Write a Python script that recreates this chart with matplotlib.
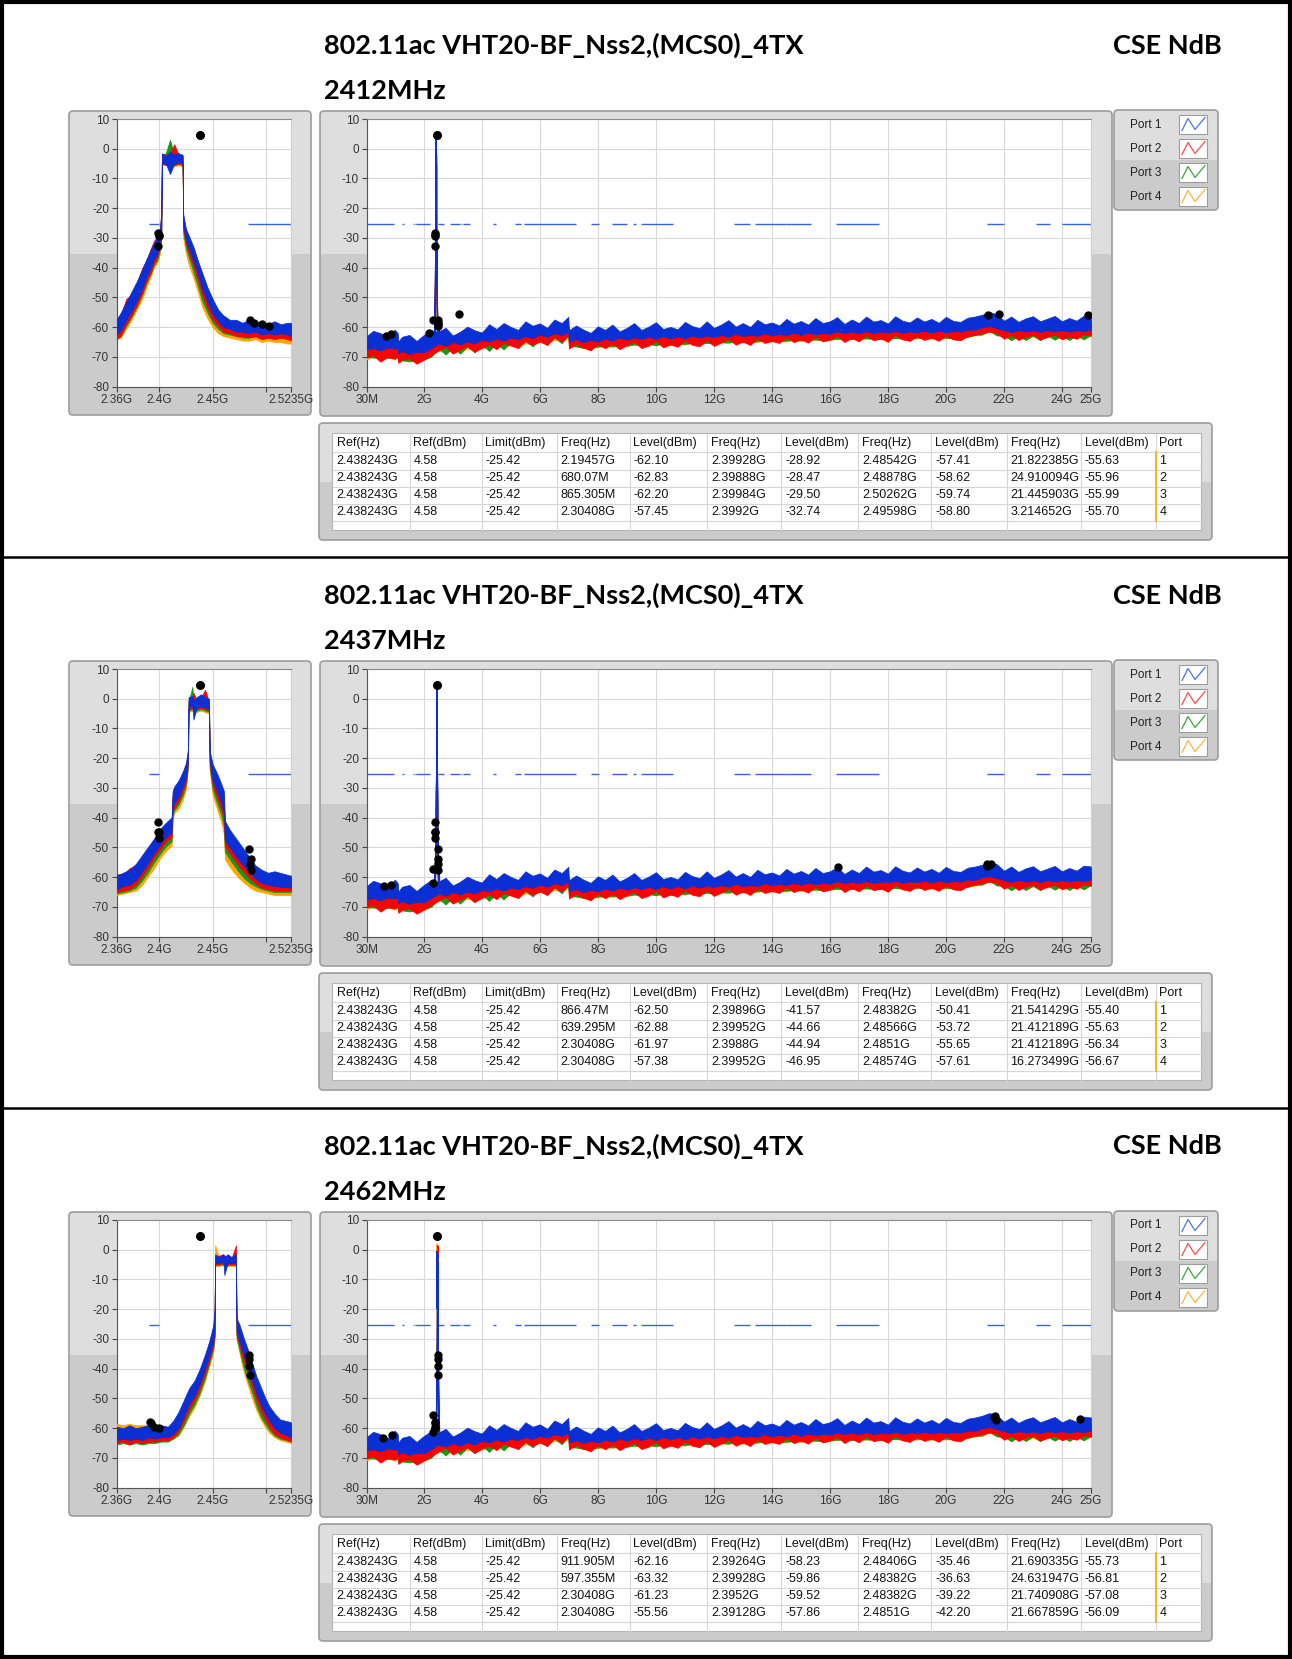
import matplotlib
matplotlib.use("Agg")
import matplotlib.pyplot as plt
from matplotlib.patches import FancyBboxPatch, Rectangle

W, H = 1292, 1659

# ---------------- data ----------------
title_text = "802.11ac VHT20-BF_Nss2,(MCS0)_4TX"
corner_text = "CSE NdB"
channel_labels = ["2412MHz", "2437MHz", "2462MHz"]
channel_center_ghz = [2.412, 2.437, 2.462]

port_names = ["Port 1", "Port 2", "Port 3", "Port 4"]
port_colors = ["#0a2fd4", "#ff0000", "#139a13", "#ffa500"]
legend_colors = ["#4a74e6", "#ff4a4a", "#3aa63a", "#ffb43c"]
limit_color = "#3563e0"

y_ticks = [10, 0, -10, -20, -30, -40, -50, -60, -70, -80]
y_tick_labels = ["10", "0", "-10", "-20", "-30", "-40", "-50", "-60", "-70", "-80"]
small_x_ticks = [2.36, 2.4, 2.45, 2.5, 2.5235]
small_x_labels = ["2.36G", "2.4G", "2.45G", "", "2.5235G"]
wide_x_ticks = [0.03, 2, 4, 6, 8, 10, 12, 14, 16, 18, 20, 22, 24, 25]
wide_x_labels = ["30M", "2G", "4G", "6G", "8G", "10G", "12G", "14G", "16G",
                 "18G", "20G", "22G", "24G", "25G"]

limit_dbm = -25.42
small_limit_start = [2.39, 2.4835]
small_limit_end = [2.40, 2.5235]
wide_limit_start = [0.03, 1.24, 1.427, 1.626, 1.71, 1.7222, 2.3, 2.39, 2.5, 2.9,
                    3.267, 3.339, 3.358, 4.4, 5.15, 5.46, 7.75, 8.5, 9.2, 9.5,
                    12.7, 13.4, 14.5, 16.2, 21.4, 23.12, 24.0]
wide_limit_end = [0.96, 1.3, 1.435, 1.6455, 1.7188, 2.2, 2.31, 2.40, 2.69, 3.26,
                  3.332, 3.3458, 3.6, 4.5, 5.35, 7.25, 8.025, 9.0, 9.3, 10.6,
                  13.25, 14.47, 15.35, 17.7, 22.01, 23.6, 25.0]

table_header = ["Ref(Hz)", "Ref(dBm)", "Limit(dBm)", "Freq(Hz)", "Level(dBm)",
                "Freq(Hz)", "Level(dBm)", "Freq(Hz)", "Level(dBm)", "Freq(Hz)",
                "Level(dBm)", "Port"]

ch1_rows = [
    ["2.438243G", "4.58", "-25.42", "2.19457G", "-62.10", "2.39928G", "-28.92", "2.48542G", "-57.41", "21.822385G", "-55.63", "1"],
    ["2.438243G", "4.58", "-25.42", "680.07M", "-62.83", "2.39888G", "-28.47", "2.48878G", "-58.62", "24.910094G", "-55.96", "2"],
    ["2.438243G", "4.58", "-25.42", "865.305M", "-62.20", "2.39984G", "-29.50", "2.50262G", "-59.74", "21.445903G", "-55.99", "3"],
    ["2.438243G", "4.58", "-25.42", "2.30408G", "-57.45", "2.3992G", "-32.74", "2.49598G", "-58.80", "3.214652G", "-55.70", "4"],
]
ch2_rows = [
    ["2.438243G", "4.58", "-25.42", "866.47M", "-62.50", "2.39896G", "-41.57", "2.48382G", "-50.41", "21.541429G", "-55.40", "1"],
    ["2.438243G", "4.58", "-25.42", "639.295M", "-62.88", "2.39952G", "-44.66", "2.48566G", "-53.72", "21.412189G", "-55.63", "2"],
    ["2.438243G", "4.58", "-25.42", "2.30408G", "-61.97", "2.3988G", "-44.94", "2.4851G", "-55.65", "21.412189G", "-56.34", "3"],
    ["2.438243G", "4.58", "-25.42", "2.30408G", "-57.38", "2.39952G", "-46.95", "2.48574G", "-57.61", "16.273499G", "-56.67", "4"],
]
ch3_rows = [
    ["2.438243G", "4.58", "-25.42", "911.905M", "-62.16", "2.39264G", "-58.23", "2.48406G", "-35.46", "21.690335G", "-55.73", "1"],
    ["2.438243G", "4.58", "-25.42", "597.355M", "-63.32", "2.39928G", "-59.86", "2.48382G", "-36.63", "24.631947G", "-56.81", "2"],
    ["2.438243G", "4.58", "-25.42", "2.30408G", "-61.23", "2.3952G", "-59.52", "2.48382G", "-39.22", "21.740908G", "-57.08", "3"],
    ["2.438243G", "4.58", "-25.42", "2.30408G", "-55.56", "2.39128G", "-57.86", "2.4851G", "-42.20", "21.667859G", "-56.09", "4"],
]

# wideband noise floor (GHz, dBm), top / bottom of each trace band
wide_freq = [0.03, 0.25, 0.5, 0.75, 1.0, 1.1, 1.12, 1.25, 1.5, 1.75,
             2.0, 2.25, 2.5, 2.75, 3.0, 3.25, 3.5, 3.75, 4.0, 4.25,
             4.5, 4.75, 5.0, 5.25, 5.5, 5.75, 6.0, 6.25, 6.5, 6.75,
             6.98, 7.0, 7.25, 7.5, 7.75, 8.0, 8.25, 8.5, 8.75, 9.0,
             9.25, 9.5, 9.75, 10.0, 10.25, 10.5, 10.75, 11.0, 11.25, 11.5,
             11.75, 12.0, 12.25, 12.5, 12.75, 13.0, 13.25, 13.5, 13.75, 14.0,
             14.25, 14.5, 14.75, 15.0, 15.25, 15.5, 15.75, 16.0, 16.25, 16.5,
             16.75, 17.0, 17.25, 17.5, 17.75, 18.0, 18.25, 18.5, 18.75, 19.0,
             19.25, 19.5, 19.75, 20.0, 20.25, 20.5, 20.75, 21.0, 21.25, 21.5,
             21.75, 22.0, 22.25, 22.5, 22.75, 23.0, 23.25, 23.5, 23.75, 24.0,
             24.25, 24.5, 24.75, 25.0]
wide_p1_hi = [-63.0, -61.2, -62.0, -63.4, -60.8, -62.0, -64.8, -63.2, -62.6, -64.6,
              -62.6, -61.0, -61.5, -60.2, -62.8, -61.5, -59.8, -61.0, -61.8, -59.0,
              -60.6, -58.6, -59.9, -60.9, -58.0, -59.5, -58.7, -60.2, -57.4, -58.6,
              -56.5, -61.0, -59.4, -60.8, -61.9, -59.7, -60.9, -59.1, -61.4, -60.2,
              -58.6, -60.9, -59.8, -58.3, -60.6, -59.9, -60.7, -58.2, -59.6, -60.3,
              -58.0, -60.2, -59.1, -57.6, -59.8, -58.6, -59.9, -57.5, -59.0, -58.4,
              -59.4, -57.2, -58.8, -57.9, -59.1, -56.9, -58.6, -58.0, -56.6, -58.9,
              -57.4, -58.6, -56.4, -58.1, -57.6, -58.8, -56.3, -57.8, -58.4, -56.7,
              -58.1, -57.2, -58.5, -56.5, -57.9, -58.2, -56.8, -56.4, -55.8, -54.9,
              -55.6, -57.8, -56.4, -58.2, -57.0, -56.3, -58.0, -57.1, -56.2, -58.0,
              -56.9, -57.8, -56.1, -56.4]
wide_p1_lo = [-67.5, -67.0, -67.8, -66.8, -67.2, -67.0, -68.8, -68.0, -69.0, -68.2,
              -68.5, -67.0, -65.5, -66.2, -65.0, -65.8, -64.8, -65.5, -64.2, -64.8,
              -63.8, -64.5, -63.5, -64.0, -63.0, -63.6, -62.5, -63.2, -62.0, -62.6,
              -61.5, -64.8, -64.0, -65.0, -64.2, -64.8, -63.8, -64.5, -63.5, -64.2,
              -63.4, -64.0, -63.2, -64.0, -63.0, -63.8, -63.0, -63.8, -62.8, -63.5,
              -62.8, -63.4, -62.6, -63.2, -62.2, -63.0, -62.6, -62.9, -62.0, -62.8,
              -62.2, -62.7, -61.8, -62.6, -61.8, -62.4, -61.9, -62.2, -61.4, -62.0,
              -61.5, -62.0, -61.3, -62.0, -61.5, -61.8, -61.2, -61.9, -61.4, -61.7,
              -61.2, -61.8, -61.2, -61.7, -61.3, -61.5, -60.8, -60.9, -60.0, -59.6,
              -60.3, -61.0, -61.6, -61.0, -61.5, -61.1, -61.6, -61.0, -61.4, -61.0,
              -61.5, -61.0, -61.3, -60.8]
wide_p2_hi = [-65.0, -64.0, -65.0, -63.5, -64.5, -64.0, -66.5, -65.0, -66.0, -65.0,
              -65.0, -63.5, -63.0, -64.5, -62.8, -63.8, -62.5, -63.5, -62.0, -63.0,
              -61.8, -62.8, -61.3, -62.3, -60.8, -61.8, -60.5, -61.3, -60.0, -60.8,
              -59.3, -63.0, -62.3, -63.5, -62.3, -63.0, -61.8, -62.8, -61.7, -62.6,
              -61.4, -62.5, -61.2, -62.3, -61.0, -62.0, -61.2, -62.2, -60.8, -61.8,
              -60.7, -61.7, -60.6, -61.5, -60.2, -61.3, -60.8, -61.0, -60.0, -61.0,
              -60.2, -60.9, -59.8, -60.8, -59.7, -60.5, -60.0, -60.3, -59.2, -60.2,
              -59.4, -60.0, -59.2, -60.1, -59.6, -59.9, -59.0, -60.0, -59.4, -59.8,
              -59.1, -59.9, -59.2, -59.8, -59.4, -59.6, -58.8, -59.0, -57.8, -57.2,
              -58.2, -59.0, -59.8, -58.8, -59.6, -59.0, -59.8, -58.8, -59.5, -58.9,
              -59.6, -58.8, -59.4, -58.5]
wide_p2_lo = [-70.2, -69.4, -71.6, -70.0, -70.6, -69.5, -72.0, -71.0, -70.4, -72.3,
              -70.9, -69.4, -67.9, -66.6, -68.9, -67.5, -66.4, -68.3, -67.0, -65.8,
              -67.4, -65.3, -66.2, -67.0, -64.6, -65.9, -64.8, -66.0, -63.4, -64.9,
              -62.6, -67.2, -65.6, -66.9, -67.8, -65.7, -67.1, -65.5, -67.4, -66.0,
              -64.9, -67.0, -66.2, -64.6, -66.8, -65.8, -66.6, -64.5, -65.9, -66.4,
              -64.4, -66.3, -65.2, -63.9, -65.9, -64.8, -66.0, -63.8, -65.3, -64.6,
              -65.3, -63.4, -65.0, -64.1, -65.2, -63.2, -64.8, -64.2, -62.9, -65.0,
              -63.6, -64.8, -62.7, -64.4, -63.8, -64.9, -62.6, -64.1, -64.6, -63.0,
              -64.3, -63.5, -64.6, -62.8, -64.1, -64.4, -63.0, -62.6, -62.0, -61.5,
              -61.9, -63.9, -62.6, -64.3, -63.2, -62.6, -64.1, -63.3, -62.5, -64.1,
              -63.1, -63.9, -62.4, -62.9]
wide_p3_hi = [-64.6, -64.3, -64.7, -63.8, -64.2, -64.3, -66.2, -65.3, -65.7, -65.2,
              -64.7, -63.8, -62.7, -64.2, -63.0, -63.5, -62.8, -63.2, -62.3, -62.7,
              -62.0, -62.5, -61.6, -62.0, -61.0, -61.5, -60.8, -61.0, -60.2, -60.5,
              -59.5, -62.7, -62.5, -63.2, -62.5, -62.7, -62.0, -62.5, -61.9, -62.3,
              -61.6, -62.2, -61.4, -62.0, -61.2, -61.7, -61.4, -61.9, -61.0, -61.5,
              -60.9, -61.4, -60.8, -61.2, -60.4, -61.0, -61.0, -60.7, -60.2, -60.7,
              -60.4, -60.6, -60.0, -60.5, -59.9, -60.2, -60.2, -60.0, -59.4, -59.9,
              -59.6, -59.7, -59.4, -59.8, -59.8, -59.6, -59.2, -59.7, -59.6, -59.5,
              -59.3, -59.6, -59.4, -59.5, -59.6, -59.3, -59.0, -58.7, -58.0, -57.5,
              -58.4, -58.7, -59.6, -59.0, -59.3, -59.2, -59.5, -59.0, -59.2, -59.1,
              -59.3, -59.0, -59.1, -58.7]
wide_p3_lo = [-70.0, -70.2, -70.4, -70.3, -70.2, -70.4, -71.0, -71.2, -71.4, -71.2,
              -70.8, -70.0, -67.0, -69.2, -66.8, -68.9, -66.4, -68.5, -65.8, -68.0,
              -65.4, -67.5, -65.0, -67.0, -64.6, -66.5, -64.1, -66.0, -63.4, -65.4,
              -62.8, -66.3, -66.5, -66.9, -66.7, -66.5, -66.3, -66.4, -66.0, -66.2,
              -65.8, -66.0, -65.7, -66.0, -65.5, -65.8, -65.5, -65.6, -65.3, -65.5,
              -65.3, -65.3, -65.1, -65.1, -64.7, -65.0, -65.1, -64.7, -64.5, -64.6,
              -64.7, -64.5, -64.3, -64.4, -64.3, -64.1, -64.4, -64.0, -63.9, -63.8,
              -64.0, -63.8, -63.8, -63.8, -64.0, -63.6, -63.7, -63.7, -63.9, -63.5,
              -63.7, -63.6, -63.7, -63.5, -63.8, -63.3, -63.3, -62.5, -62.5, -61.1,
              -62.8, -62.7, -64.4, -62.7, -64.3, -62.8, -64.4, -62.7, -64.2, -62.7,
              -64.3, -62.7, -64.1, -62.5]
wide_p4_hi = [-64.3, -64.6, -64.4, -64.1, -63.9, -64.6, -65.9, -65.6, -65.4, -65.5,
              -64.4, -64.1, -62.4, -64.5, -62.7, -63.8, -62.5, -63.5, -62.0, -63.0,
              -61.7, -62.8, -61.3, -62.3, -60.7, -61.8, -60.5, -61.3, -59.9, -60.8,
              -59.2, -63.0, -62.2, -63.5, -62.2, -63.0, -61.7, -62.8, -61.6, -62.6,
              -61.3, -62.5, -61.1, -62.3, -60.9, -62.0, -61.1, -62.2, -60.7, -61.8,
              -60.6, -61.7, -60.5, -61.5, -60.1, -61.3, -60.7, -61.0, -59.9, -61.0,
              -60.1, -60.9, -59.7, -60.8, -59.6, -60.5, -59.9, -60.3, -59.1, -60.2,
              -59.3, -60.0, -59.1, -60.1, -59.5, -59.9, -58.9, -60.0, -59.3, -59.8,
              -59.0, -59.9, -59.1, -59.8, -59.3, -59.6, -58.7, -59.0, -57.7, -57.2,
              -58.1, -59.0, -59.7, -58.8, -59.5, -59.0, -59.7, -58.8, -59.4, -58.9,
              -59.5, -58.8, -59.3, -58.5]
wide_p4_lo = [-70.8, -70.0, -70.6, -70.1, -70.9, -70.0, -71.3, -70.9, -71.6, -71.0,
              -71.0, -69.8, -67.8, -68.5, -67.6, -68.2, -67.2, -67.8, -66.6, -67.3,
              -66.2, -66.8, -65.9, -66.3, -65.4, -65.8, -64.9, -65.4, -64.2, -64.8,
              -63.6, -66.5, -66.4, -67.1, -66.6, -66.8, -66.2, -66.7, -65.9, -66.4,
              -65.8, -66.3, -65.6, -66.2, -65.4, -66.0, -65.4, -65.9, -65.2, -65.7,
              -65.2, -65.6, -65.0, -65.4, -64.6, -65.2, -65.0, -65.0, -64.4, -64.9,
              -64.6, -64.8, -64.2, -64.7, -64.2, -64.4, -64.3, -64.3, -63.8, -64.1,
              -63.9, -64.1, -63.7, -64.1, -63.9, -63.9, -63.6, -64.0, -63.8, -63.8,
              -63.6, -63.9, -63.6, -63.8, -63.7, -63.6, -63.2, -62.8, -62.4, -61.4,
              -62.7, -63.0, -64.3, -63.0, -64.2, -63.1, -64.3, -63.0, -64.1, -63.0,
              -64.2, -63.0, -64.0, -62.8]

# channel 2412 MHz, zoomed span (GHz, dBm)
ch1_freq = [2.360, 2.364, 2.369, 2.374, 2.379, 2.384, 2.388, 2.392, 2.395, 2.398,
            2.4005, 2.4018, 2.4024, 2.406, 2.410, 2.414, 2.418, 2.4218, 2.4224, 2.425,
            2.428, 2.432, 2.436, 2.440, 2.445, 2.450, 2.455, 2.460, 2.466, 2.472,
            2.478, 2.484, 2.490, 2.496, 2.502, 2.508, 2.514, 2.520, 2.5235]
ch1_p1_hi = [-57.5, -55.0, -51.5, -48.0, -44.5, -40.5, -37.0, -34.0, -31.5, -30.0,
             -27.0, -21.0, -1.5, -2.5, -1.0, -2.0, -1.5, -2.0, -22.0, -27.0,
             -29.5, -33.0, -37.5, -41.5, -46.5, -50.5, -54.0, -56.0, -57.5, -57.5,
             -58.5, -57.5, -58.5, -58.0, -59.0, -58.0, -59.0, -58.5, -58.5]
ch1_p1_lo = [-62.5, -61.0, -57.5, -54.5, -51.0, -47.0, -43.0, -40.0, -37.0, -35.5,
             -32.0, -28.0, -4.5, -5.0, -8.5, -5.0, -4.5, -5.0, -26.0, -31.0,
             -34.0, -38.0, -42.0, -47.0, -51.5, -55.5, -58.0, -60.0, -60.5, -61.5,
             -61.5, -62.0, -61.5, -62.5, -62.0, -62.5, -62.0, -62.5, -63.0]
ch1_p2_hi = [-57.0, -55.5, -50.5, -49.0, -45.0, -40.0, -37.5, -33.5, -31.0, -29.5,
             -27.5, -22.0, -2.0, -2.0, -1.5, 1.5, -2.0, -2.5, -23.0, -27.5,
             -30.0, -33.5, -38.0, -42.0, -47.0, -51.0, -54.5, -56.5, -58.0, -58.0,
             -59.0, -58.0, -59.0, -58.5, -59.5, -58.5, -59.5, -59.0, -59.0]
ch1_p2_lo = [-64.0, -62.5, -59.0, -56.0, -52.5, -48.5, -44.5, -41.5, -38.5, -36.5,
             -33.0, -29.0, -5.0, -5.5, -4.5, -5.5, -5.0, -5.5, -27.0, -32.0,
             -35.5, -39.5, -44.0, -49.0, -53.5, -57.5, -59.5, -61.5, -62.0, -63.0,
             -63.0, -63.5, -63.0, -64.0, -63.5, -64.0, -63.5, -64.0, -64.5]
ch1_p3_hi = [-59.0, -57.5, -53.0, -50.5, -46.5, -42.5, -39.0, -36.0, -33.0, -31.5,
             -28.5, -22.5, -2.0, -1.5, 3.0, -2.0, -2.0, -2.5, -23.5, -28.5,
             -31.5, -35.0, -40.0, -44.0, -49.0, -53.0, -55.5, -57.5, -58.5, -59.0,
             -59.5, -59.0, -59.5, -59.5, -60.0, -59.5, -60.0, -59.5, -60.0]
ch1_p3_lo = [-64.0, -63.0, -59.5, -56.5, -53.0, -49.0, -45.0, -42.0, -39.0, -37.5,
             -34.0, -29.5, -5.0, -5.0, -4.5, -5.5, -5.0, -5.5, -28.0, -33.5,
             -37.0, -41.5, -46.0, -51.0, -55.0, -58.5, -60.5, -62.0, -62.5, -63.0,
             -63.5, -63.5, -63.0, -64.0, -63.5, -64.0, -63.5, -64.0, -64.0]
ch1_p4_hi = [-60.0, -58.5, -54.5, -51.5, -48.0, -44.0, -40.5, -37.0, -34.0, -32.5,
             -29.5, -23.5, -2.5, -2.0, -2.0, -2.5, -2.0, -3.0, -25.0, -30.0,
             -33.0, -37.0, -42.0, -46.0, -51.0, -54.5, -57.0, -59.0, -60.0, -60.5,
             -61.0, -60.5, -61.0, -61.0, -61.5, -61.0, -61.5, -61.5, -62.0]
ch1_p4_lo = [-64.0, -63.5, -60.5, -57.5, -54.0, -50.5, -46.5, -43.0, -40.0, -38.5,
             -35.5, -30.5, -5.5, -5.5, -5.0, -6.0, -5.5, -6.0, -30.0, -35.5,
             -39.5, -43.5, -48.0, -53.0, -57.0, -60.0, -62.0, -63.0, -63.5, -64.0,
             -64.5, -64.5, -64.0, -65.0, -64.5, -65.0, -65.0, -65.5, -65.5]
ch1_peak = [4.0, -1.0, -1.0, -1.0]

# channel 2437 MHz
ch2_freq = [2.360, 2.366, 2.372, 2.378, 2.384, 2.390, 2.395, 2.400, 2.404, 2.408,
            2.4115, 2.4125, 2.414, 2.418, 2.422, 2.425, 2.4268, 2.4274, 2.431, 2.432,
            2.435, 2.439, 2.443, 2.4466, 2.4472, 2.450, 2.454, 2.458, 2.4605, 2.4615,
            2.466, 2.470, 2.475, 2.480, 2.485, 2.490, 2.496, 2.502, 2.508, 2.5235]
ch2_p1_hi = [-59.5, -58.5, -57.5, -55.5, -52.5, -49.5, -47.0, -44.0, -42.5, -41.0,
             -40.0, -31.0, -29.5, -27.5, -24.5, -21.5, -17.0, 0.5, 1.0, -0.5,
             0.5, 1.5, 0.5, 0.0, -17.5, -22.0, -25.0, -28.5, -31.0, -41.0,
             -44.0, -46.0, -48.5, -51.0, -53.5, -56.0, -57.5, -58.5, -58.0, -59.5]
ch2_p1_lo = [-64.0, -63.0, -62.5, -61.0, -58.0, -55.0, -52.0, -49.5, -47.5, -46.0,
             -45.0, -37.0, -35.0, -33.0, -29.5, -26.5, -21.0, -3.0, -2.5, -7.0,
             -3.0, -2.5, -3.0, -3.5, -21.0, -27.5, -31.0, -35.0, -38.5, -47.5,
             -50.0, -52.0, -54.5, -56.5, -58.5, -60.5, -62.0, -62.5, -63.0, -63.5]
ch2_p2_hi = [-59.0, -59.0, -57.0, -56.0, -53.0, -50.0, -47.5, -44.5, -43.0, -42.0,
             -41.0, -31.5, -30.0, -28.0, -25.0, -22.0, -18.0, -0.5, 0.0, 2.0,
             -0.5, 0.5, 3.0, -1.0, -18.5, -23.0, -26.0, -29.5, -32.5, -42.5,
             -45.5, -47.5, -50.0, -52.5, -55.0, -57.0, -58.5, -59.5, -59.0, -60.0]
ch2_p2_lo = [-65.0, -64.5, -64.0, -62.5, -59.5, -56.5, -53.5, -51.0, -49.0, -47.5,
             -46.5, -38.0, -36.5, -34.5, -31.0, -28.0, -22.0, -3.5, -3.0, -4.0,
             -3.5, -3.0, -3.5, -4.0, -22.0, -29.0, -33.0, -37.0, -40.5, -49.5,
             -52.0, -54.0, -56.5, -58.5, -60.5, -62.0, -63.5, -64.0, -64.5, -64.5]
ch2_p3_hi = [-60.5, -60.0, -59.0, -57.5, -54.5, -51.5, -49.0, -46.0, -44.5, -43.0,
             -42.0, -32.5, -31.0, -29.0, -26.5, -23.0, -19.0, -1.0, 4.0, -1.0,
             0.0, 0.5, -0.5, -1.5, -19.5, -24.5, -28.0, -31.5, -34.5, -44.5,
             -47.5, -49.5, -52.0, -54.5, -57.0, -58.5, -60.0, -60.5, -60.5, -61.0]
ch2_p3_lo = [-65.5, -65.0, -64.5, -63.5, -61.0, -58.0, -55.0, -52.5, -50.5, -49.0,
             -48.0, -39.0, -37.5, -35.5, -32.5, -29.0, -23.0, -4.0, -3.5, -4.5,
             -4.0, -3.5, -4.0, -4.5, -23.0, -30.5, -35.0, -39.0, -43.0, -51.5,
             -54.0, -56.0, -58.5, -60.5, -62.0, -63.0, -64.0, -64.5, -65.0, -65.0]
ch2_p4_hi = [-61.0, -60.5, -60.0, -58.5, -55.5, -53.0, -50.5, -47.5, -46.0, -44.5,
             -43.5, -33.5, -32.0, -30.5, -28.0, -24.5, -20.0, -1.5, 1.0, -1.5,
             -0.5, 0.0, -1.0, -2.0, -20.5, -26.0, -29.5, -33.5, -36.5, -46.5,
             -49.5, -51.5, -54.0, -56.5, -58.5, -60.0, -61.0, -61.5, -62.0, -62.0]
ch2_p4_lo = [-66.0, -65.5, -65.0, -64.5, -62.5, -59.5, -57.0, -54.0, -52.0, -50.5,
             -49.5, -40.0, -38.5, -37.0, -34.0, -30.5, -24.0, -4.5, -4.0, -5.0,
             -4.5, -4.0, -4.5, -5.0, -24.0, -32.5, -37.0, -41.5, -45.5, -54.0,
             -56.5, -58.5, -60.5, -62.0, -63.5, -64.5, -65.0, -65.5, -66.0, -66.0]
ch2_peak = [4.0, -2.0, -2.0, -2.0]

# channel 2462 MHz
ch3_freq = [2.360, 2.366, 2.372, 2.378, 2.384, 2.390, 2.396, 2.402, 2.408, 2.413,
            2.418, 2.423, 2.428, 2.433, 2.438, 2.443, 2.447, 2.4505, 2.4518, 2.4524,
            2.456, 2.460, 2.461, 2.464, 2.468, 2.4718, 2.4724, 2.475, 2.479, 2.483,
            2.487, 2.491, 2.495, 2.499, 2.503, 2.508, 2.513, 2.5235]
ch3_p1_hi = [-59.5, -60.0, -59.0, -60.0, -59.5, -59.0, -60.0, -59.0, -59.5, -57.5,
             -54.5, -50.5, -46.5, -44.0, -40.0, -35.0, -30.5, -25.5, -20.0, -1.5,
             -2.5, -1.5, -2.5, -1.5, -2.5, -1.5, -23.0, -25.0, -29.5, -33.5,
             -38.0, -42.5, -46.0, -49.5, -52.5, -55.0, -57.0, -58.0]
ch3_p1_lo = [-64.0, -63.5, -64.0, -63.5, -64.0, -63.0, -63.5, -63.0, -63.0, -62.0,
             -60.0, -56.0, -52.0, -49.0, -45.0, -40.0, -35.5, -31.0, -27.5, -4.5,
             -4.5, -4.0, -8.5, -4.5, -4.5, -4.5, -27.5, -30.5, -35.5, -39.5,
             -44.0, -48.5, -52.0, -55.0, -57.5, -60.0, -61.5, -63.0]
ch3_p2_hi = [-60.0, -60.5, -59.5, -60.5, -60.0, -59.5, -60.5, -59.5, -60.0, -58.5,
             -55.5, -51.5, -47.5, -45.0, -41.0, -36.0, -31.5, -26.5, -21.0, -2.0,
             -2.0, -1.5, -2.0, -2.0, -2.5, 1.5, -23.5, -26.0, -30.5, -34.5,
             -39.5, -44.0, -47.5, -51.0, -54.0, -56.5, -58.0, -59.0]
ch3_p2_lo = [-65.0, -64.5, -65.5, -64.5, -65.0, -64.5, -64.5, -64.0, -64.0, -63.0,
             -61.0, -57.5, -53.5, -50.5, -46.5, -41.5, -37.0, -32.5, -29.0, -5.0,
             -5.0, -4.5, -5.0, -5.0, -5.0, -5.0, -28.5, -32.0, -37.5, -41.5,
             -46.0, -50.5, -54.0, -57.0, -59.5, -62.0, -63.0, -64.5]
ch3_p3_hi = [-60.0, -60.5, -60.0, -60.5, -60.0, -60.0, -60.5, -60.0, -60.5, -59.0,
             -56.5, -52.5, -48.5, -46.0, -42.0, -37.0, -32.0, -27.0, -21.5, -2.0,
             -2.5, -2.0, -2.5, -2.0, -3.0, -2.0, -24.0, -27.0, -31.5, -36.0,
             -41.0, -45.5, -49.0, -52.0, -55.0, -57.5, -59.0, -60.0]
ch3_p3_lo = [-65.5, -65.0, -65.5, -65.0, -65.5, -65.0, -65.0, -64.5, -64.5, -63.5,
             -62.0, -59.0, -55.0, -52.0, -48.0, -43.0, -38.0, -33.5, -29.5, -5.0,
             -5.0, -5.0, -5.5, -5.0, -5.0, -5.0, -29.5, -33.5, -39.5, -44.0,
             -48.0, -52.5, -56.0, -58.5, -60.5, -62.5, -63.5, -64.5]
ch3_p4_hi = [-58.5, -59.0, -58.5, -59.0, -59.0, -59.0, -59.5, -59.0, -59.5, -58.5,
             -56.0, -52.5, -49.0, -46.5, -42.5, -37.5, -32.5, -27.5, -22.0, 1.5,
             -2.5, -2.0, -3.0, -2.0, -2.5, -2.0, -24.5, -27.5, -32.5, -37.0,
             -42.0, -46.5, -50.0, -53.0, -56.0, -58.0, -59.5, -60.5]
ch3_p4_lo = [-64.0, -64.5, -64.0, -64.5, -64.5, -64.5, -64.5, -64.0, -64.5, -63.5,
             -62.5, -59.5, -56.0, -53.0, -49.0, -44.0, -39.0, -34.5, -30.0, -5.5,
             -5.5, -5.0, -5.5, -5.5, -5.5, -5.5, -30.0, -34.5, -41.0, -45.5,
             -50.0, -54.0, -57.0, -59.5, -61.5, -63.0, -64.0, -65.0]
ch3_peak = [-0.5, -1.5, -1.5, 2.0]
spike_base = -20.0

# ---------------- layout ----------------
plt.rcParams["font.family"] = ["Liberation Sans", "DejaVu Sans"]

fig = plt.figure(figsize=(W / 100, H / 100), dpi=100)
fig.patch.set_facecolor("white")

bg = fig.add_axes([0, 0, 1, 1])
bg.set_xlim(0, W)
bg.set_ylim(H, 0)
bg.axis("off")

FRAME_UP = "#dedede"
FRAME_LOW = "#cbcbcb"
FRAME_EDGE = "#9d9d9d"
TITLE_FONT = ["Lato", "DejaVu Sans"]


def fig_rect(x0, y0, x1, y1):
    return [x0 / W, 1 - y1 / H, (x1 - x0) / W, (y1 - y0) / H]


def frame(x0, y0, x1, y1, split):
    bg.add_patch(FancyBboxPatch((x0, y0), x1 - x0, y1 - y0,
                                boxstyle="round,pad=0,rounding_size=4",
                                fc=FRAME_LOW, ec="none"))
    bg.add_patch(Rectangle((x0 + 1, y0 + 1), x1 - x0 - 2, split - y0 - 1,
                           fc=FRAME_UP, ec="none"))
    bg.add_patch(FancyBboxPatch((x0, y0), x1 - x0, y1 - y0,
                                boxstyle="round,pad=0,rounding_size=4",
                                fc="none", ec=FRAME_EDGE, lw=1.2))


def to_ghz(s):
    if s.endswith("G"):
        return float(s[:-1])
    if s.endswith("M"):
        return float(s[:-1]) / 1000
    return float(s)


def marker_points(rows):
    xs, ys = [], []
    for row in rows:
        xs.append(to_ghz(row[0]))
        ys.append(float(row[1]))
        for c in (3, 5, 7, 9):
            xs.append(to_ghz(row[c]))
            ys.append(float(row[c + 1]))
    return xs, ys


def style_axes(ax, xticks, xlabels, xlim):
    ax.set_facecolor("white")
    ax.set_xlim(*xlim)
    ax.set_ylim(-80, 10)
    ax.set_xticks(xticks)
    ax.set_xticklabels(xlabels)
    ax.set_yticks(y_ticks)
    ax.set_yticklabels(y_tick_labels)
    ax.grid(True, color="#d8d8d8", lw=0.8)
    ax.set_axisbelow(True)
    for side in ("left", "bottom"):
        ax.spines[side].set_color("#555555")
        ax.spines[side].set_linewidth(0.8)
    ax.spines["top"].set_color("#8a8a8a")
    ax.spines["top"].set_linewidth(0.8)
    ax.spines["right"].set_color("#cfcfcf")
    ax.spines["right"].set_linewidth(0.8)
    ax.tick_params(direction="out", length=3.5, width=0.8, color="#444444",
                   labelsize=8.5, labelcolor="#333333", pad=2)


col_x = [332.5, 409.5, 481.5, 556.5, 629.5, 707, 781, 858, 931, 1006.5, 1080.5, 1155.5]
table_right = 1201

panels = [
    (ch1_freq, [ch1_p1_hi, ch1_p2_hi, ch1_p3_hi, ch1_p4_hi],
     [ch1_p1_lo, ch1_p2_lo, ch1_p3_lo, ch1_p4_lo], ch1_peak, ch1_rows),
    (ch2_freq, [ch2_p1_hi, ch2_p2_hi, ch2_p3_hi, ch2_p4_hi],
     [ch2_p1_lo, ch2_p2_lo, ch2_p3_lo, ch2_p4_lo], ch2_peak, ch2_rows),
    (ch3_freq, [ch3_p1_hi, ch3_p2_hi, ch3_p3_hi, ch3_p4_hi],
     [ch3_p1_lo, ch3_p2_lo, ch3_p3_lo, ch3_p4_lo], ch3_peak, ch3_rows),
]
wide_his = [wide_p1_hi, wide_p2_hi, wide_p3_hi, wide_p4_hi]
wide_los = [wide_p1_lo, wide_p2_lo, wide_p3_lo, wide_p4_lo]
offsets = [0, 550, 1101]

for k, (freq, his, los, peak, rows) in enumerate(panels):
    dy = offsets[k]

    # titles
    bg.text(324, 45.5 + dy, title_text, fontsize=19.5, fontweight="bold",
            family=TITLE_FONT, ha="left", va="center")
    bg.text(1222, 45.5 + dy, corner_text, fontsize=19.5, fontweight="bold",
            family=TITLE_FONT, ha="right", va="center")
    bg.text(324, 91 + dy, channel_labels[k], fontsize=19.5, fontweight="bold",
            family=TITLE_FONT, ha="left", va="center")

    # frames
    frame(69, 111 + dy, 311, 415 + dy, 254 + dy)
    frame(320, 111 + dy, 1112, 416 + dy, 254 + dy)
    frame(1114, 110 + dy, 1218, 210 + dy, 160 + dy)
    frame(319, 423 + dy, 1212, 540 + dy, 482 + dy)

    mx, my = marker_points(rows)

    # zoomed channel plot
    ax1 = fig.add_axes(fig_rect(116.7, 119 + dy, 291, 386.7 + dy))
    style_axes(ax1, small_x_ticks, small_x_labels, (2.36, 2.5235))
    ax1.hlines([limit_dbm] * len(small_limit_start), small_limit_start,
               small_limit_end, colors=limit_color, lw=1.0, zorder=2)
    for i in (3, 2, 1, 0):
        ax1.fill_between(freq, los[i], his[i], color=port_colors[i],
                         lw=0.5, zorder=3 + (3 - i))
    ax1.plot(mx, my, "o", color="black", ms=5, zorder=10)

    # wideband plot
    ax2 = fig.add_axes(fig_rect(366.7, 119 + dy, 1091, 386.7 + dy))
    style_axes(ax2, wide_x_ticks, wide_x_labels, (0.03, 25))
    ax2.hlines([limit_dbm] * len(wide_limit_start), wide_limit_start,
               wide_limit_end, colors=limit_color, lw=1.0, zorder=2)
    for i in (3, 2, 1, 0):
        ax2.fill_between(wide_freq, wide_los[i], wide_his[i], color=port_colors[i],
                         lw=0.5, zorder=3 + (3 - i))
        ax2.fill_between(freq, los[i], his[i], color=port_colors[i],
                         lw=0.8, zorder=3 + (3 - i))
        ax2.vlines(channel_center_ghz[k], spike_base, peak[i],
                   colors=port_colors[i], lw=1.4, zorder=3 + (3 - i))
    ax2.plot(mx, my, "o", color="black", ms=5, zorder=10)

    # legend
    row_y = [124.5, 148.5, 172.5, 196.5]
    for i, name in enumerate(port_names):
        yc = row_y[i] + dy
        bg.text(1130, yc, name, fontsize=8.5, ha="left", va="center", color="#222222")
        bg.add_patch(Rectangle((1179, yc - 9.5), 28, 19, fc="white",
                               ec="#9c9c9c", lw=0.8))
        bg.plot([1182, 1188, 1195, 1205], [yc + 6, yc - 6, yc + 5, yc - 7],
                color=legend_colors[i], lw=0.9)

    # table
    top = 434 + dy
    row_edges = [top, 452 + dy, 469.5 + dy, 486.5 + dy, 503.5 + dy, 520.5 + dy]
    bottom = 530 + dy
    bg.add_patch(Rectangle((col_x[0] - 1, top - 1), table_right - col_x[0] + 1,
                           bottom - top + 1, fc="white", ec="#b5b5b5", lw=0.8))
    for ye in row_edges[1:]:
        bg.plot([col_x[0], table_right], [ye, ye], color="#d6d6d6", lw=0.8)
    for xc in col_x[1:]:
        bg.plot([xc, xc], [top, bottom], color="#d6d6d6", lw=0.8)
    bg.plot([col_x[-1], col_x[-1]], [row_edges[1], row_edges[5]],
            color="#f2b632", lw=1.5)
    for c, label in enumerate(table_header):
        bg.text(col_x[c] + 4, (row_edges[0] + row_edges[1]) / 2, label,
                fontsize=9, ha="left", va="center", color="#111111")
    for r, row in enumerate(rows):
        yc = (row_edges[r + 1] + row_edges[r + 2]) / 2
        for c, val in enumerate(row):
            bg.text(col_x[c] + 4, yc, val, fontsize=9, ha="left",
                    va="center", color="#111111")

# black outer border and separators
bg.add_patch(Rectangle((2, 2), W - 4, H - 4, fill=False, ec="black", lw=3.0))
for ys in (557, 1108):
    bg.plot([0, W], [ys, ys], color="black", lw=1.8)

fig.savefig("out.png", dpi=100)
